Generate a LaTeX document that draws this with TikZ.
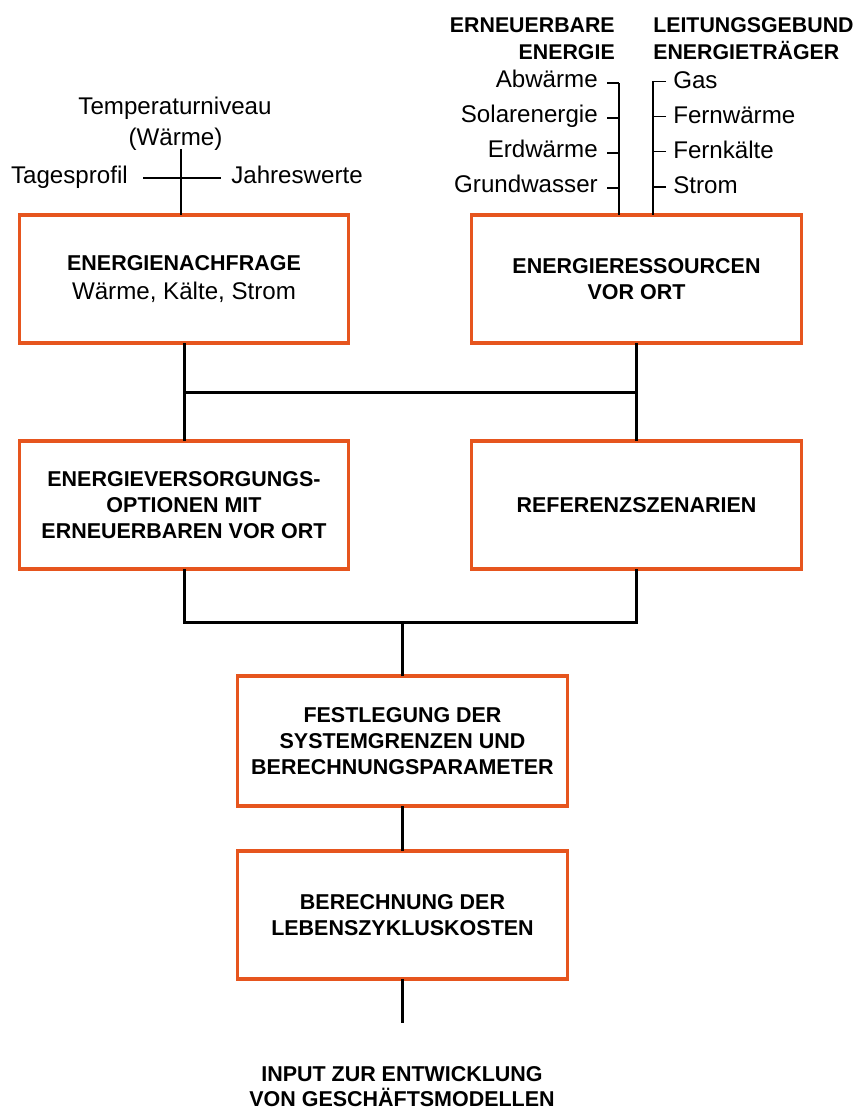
\documentclass[tikz,border=0pt]{standalone}
\usepackage{fontspec}
\setmainfont{Liberation Sans}
\usetikzlibrary{calc}
\definecolor{boxorange}{RGB}{230,85,30}
\newcommand\boxfont{\fontsize{16.1}{19.5}\selectfont\bfseries}
\newcommand\plainfont{\fontsize{18.1}{19.5}\selectfont\mdseries}
\begin{document}
\begin{tikzpicture}[x=0.75pt,y=-0.75pt,
  flowbox/.style={draw=boxorange,line width=2.4pt,inner sep=0pt,outer sep=0pt,
    minimum width=247pt,minimum height=96pt,align=center,font=\boxfont},
  lbl/.style={inner sep=0pt,font=\plainfont},
  hdr/.style={inner sep=0pt,font=\fontsize{16}{19.5}\selectfont\bfseries},
  conn/.style={line width=2.25pt},
  twig/.style={line width=0.8pt}]
\useasboundingbox (0,0) rectangle (859,1110);

% main boxes
\node[flowbox] (b1) at (184,279) {ENERGIENACHFRAGE\\[2pt]{\plainfont Wärme, Kälte, Strom}};
\node[flowbox] (b2) at (636.5,279) {ENERGIERESSOURCEN\\VOR ORT};
\node[flowbox] (b5) at (184,505) {ENERGIEVERSORGUNGS-\\OPTIONEN MIT\\ERNEUERBAREN VOR ORT};
\node[flowbox] (b6) at (636.5,505) {REFERENZSZENARIEN};
\node[flowbox,minimum height=97.5pt] (b3) at (402.5,741) {FESTLEGUNG DER\\SYSTEMGRENZEN UND\\BERECHNUNGSPARAMETER};
\node[flowbox] (b4) at (402.5,915) {BERECHNUNG DER\\LEBENSZYKLUSKOSTEN};

% demand parameters
\node[lbl,anchor=base] (temp) at (175,114) {Temperaturniveau};
\node[lbl,anchor=base] (warm) at (175.5,145) {(Wärme)};
\node[lbl,anchor=base east] (tag) at (128,183) {Tagesprofil};
\node[lbl,anchor=base west] (jahr) at (231,183) {Jahreswerte};
\coordinate (tv) at (181,149);
\draw[twig] (tv) -- (tv |- b1.north);
\draw[twig] ($(tag.base east)+(15,-5)$) -- ($(jahr.base west)+(-10,-5)$);

% local resources
\node[hdr,anchor=base east] (ee1) at (615,32) {ERNEUERBARE};
\node[hdr,anchor=base east] (ee2) at (615,59) {ENERGIE};
\node[hdr,anchor=base west] (lg1) at (653,32) {LEITUNGSGEBUND};
\node[hdr,anchor=base west] (lg2) at (653,59) {ENERGIETRÄGER};

\node[lbl,anchor=base east] (abw) at (598,87.5) {Abwärme};
\node[lbl,anchor=base east] (sol) at (598,122.5) {Solarenergie};
\node[lbl,anchor=base east] (erd) at (598,157.5) {Erdwärme};
\node[lbl,anchor=base east] (grund) at (598,192.5) {Grundwasser};
\node[lbl,anchor=base west] (gas) at (673,88) {Gas};
\node[lbl,anchor=base west] (fw) at (673,123) {Fernwärme};
\node[lbl,anchor=base west] (fk) at (673,158) {Fernkälte};
\node[lbl,anchor=base west] (strom) at (673,193.5) {Strom};

\coordinate (eeTop) at (619,83);
\coordinate (lgTop) at (653,81);
\draw[twig] (eeTop) -- (eeTop |- b2.north);
\draw[twig] (lgTop) -- (lgTop |- b2.north);
\foreach \n in {abw,sol,erd,grund}
  \draw[twig] ($(\n.base east)+(9,-4.5)$) coordinate (tk) -- (tk -| eeTop);
\foreach \n in {gas,fw,fk,strom}
  \draw[twig] ($(\n.base west)+(-7,-6.5)$) coordinate (tk) -- (tk -| lgTop);

% flow connectors
\coordinate (j1) at (184,392);
\draw[conn] (b1.south) -- (b5.north);
\draw[conn] (b2.south) -- (b6.north);
\draw[conn] (j1) -- (j1 -| b2.south);
\coordinate (j2) at (402.5,622);
\draw[conn] (b5.south) |- (j2) -| (b6.south);
\draw[conn] (j2) -- (b3.north);
\draw[conn] (b3.south) -- (b4.north);
\coordinate (outEnd) at (402.5,1023);
\draw[conn] (b4.south) -- (outEnd);

% result
\node[hdr,font=\boxfont,anchor=base] (out1) at (402,1081.5) {INPUT ZUR ENTWICKLUNG};
\node[hdr,font=\boxfont,anchor=base] (out2) at (402,1106.5) {VON GESCHÄFTSMODELLEN};
\end{tikzpicture}
\end{document}
